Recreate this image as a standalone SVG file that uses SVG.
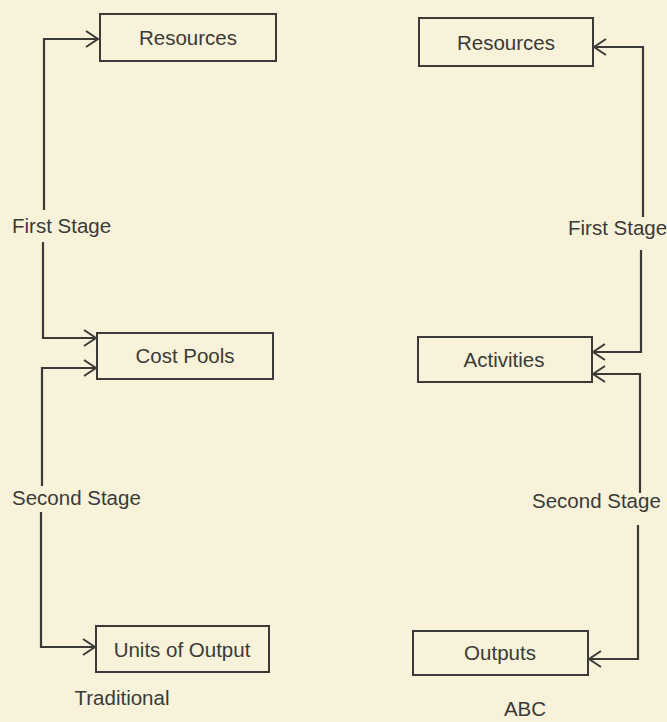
<svg xmlns="http://www.w3.org/2000/svg" width="667" height="722" viewBox="0 0 667 722">
<style>
text{font-family:"Liberation Sans",Arial,sans-serif;font-size:20.5px;fill:#3b3a36}
.box{fill:none;stroke:#3b3a36;stroke-width:2}
.c{fill:none;stroke:#3b3a36;stroke-width:2.2}
</style>
<defs>
<marker id="ah" viewBox="0 0 14 18" refX="13" refY="9" markerWidth="14" markerHeight="18" markerUnits="userSpaceOnUse" orient="auto-start-reverse">
<polyline points="1,1 13,9 1,17" fill="none" stroke="#3b3a36" stroke-width="2"/>
</marker>
</defs>
<rect width="667" height="722" fill="#f7f2d9"/>
<g id="connectors">
<path class="c" d="M44,210 V39 H98" marker-end="url(#ah)"/>
<path class="c" d="M43,242 V338 H96" marker-end="url(#ah)"/>
<path class="c" d="M42,486 V368 H96" marker-end="url(#ah)"/>
<path class="c" d="M41,512 V647 H95" marker-end="url(#ah)"/>
<path class="c" d="M643,217 V47 H594" marker-end="url(#ah)"/>
<path class="c" d="M641,250 V352 H593" marker-end="url(#ah)"/>
<path class="c" d="M640,493 V374 H593" marker-end="url(#ah)"/>
<path class="c" d="M638,525 V659 H589" marker-end="url(#ah)"/>
</g>
<g id="trad-resources"><rect class="box" x="100" y="14" width="176" height="47"/><text x="188" y="45" text-anchor="middle">Resources</text></g>
<g id="cost-pools"><rect class="box" x="97" y="333" width="176" height="46"/><text x="185" y="363" text-anchor="middle">Cost Pools</text></g>
<g id="units-output"><rect class="box" x="96" y="626" width="173" height="46"/><text x="182" y="657" text-anchor="middle">Units of Output</text></g>
<g id="abc-resources"><rect class="box" x="419" y="18" width="174" height="48"/><text x="506" y="50" text-anchor="middle">Resources</text></g>
<g id="activities"><rect class="box" x="418" y="337" width="174" height="45"/><text x="504" y="367" text-anchor="middle">Activities</text></g>
<g id="outputs"><rect class="box" x="413" y="631" width="175" height="44"/><text x="500" y="660" text-anchor="middle">Outputs</text></g>
<g id="labels">
<text x="12" y="233">First Stage</text>
<text x="12" y="505">Second Stage</text>
<text x="568" y="235">First Stage</text>
<text x="532" y="508">Second Stage</text>
<text x="122" y="705" text-anchor="middle">Traditional</text>
<text x="525" y="716" text-anchor="middle">ABC</text>
</g>
</svg>
